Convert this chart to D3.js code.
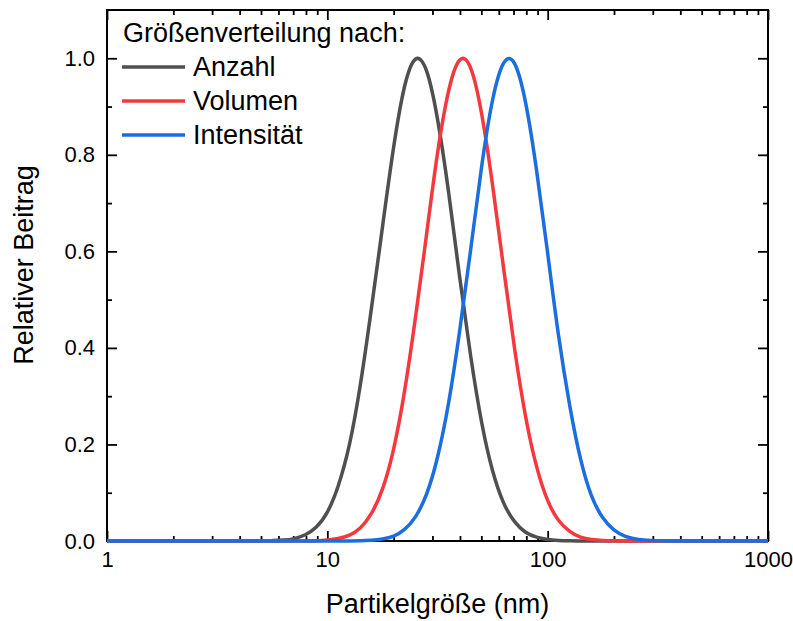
<!DOCTYPE html>
<html>
  <head>
    <meta charset="UTF-8" />
    <title>Größenverteilung</title>
    <script src="https://d3js.org/d3.v7.min.js"></script>
    <style>
      body { margin: 0; background: #fff; }
      svg text { font-family: "Liberation Sans", Arial, sans-serif; fill: #000; }
      .tick line { stroke: #000; stroke-width: 1.8; }
      .tick text { font-size: 22px; }
    </style>
  </head>
  <body>
    <div id="chart"></div>
    <script>
      // Partikelgröße in nm (log-Raster)
      var sizes = [1, 5.01, 5.62, 6.31, 7.08, 7.94, 8.91, 10, 11.2, 12.6, 14.1, 15.8, 17.8, 20, 22.4,
        25.1, 28.2, 31.6, 35.5, 39.8, 44.7, 50.1, 56.2, 63.1, 70.8, 79.4, 89.1, 100, 112, 126, 141,
        158, 178, 200, 224, 251, 282, 316, 355, 398, 1000];

      var anzahl = [0, 0.0002, 0.0007, 0.002, 0.005, 0.013, 0.029, 0.060, 0.114, 0.200, 0.322, 0.477,
        0.651, 0.816, 0.941, 0.998, 0.974, 0.875, 0.723, 0.549, 0.384, 0.247, 0.146, 0.079, 0.040,
        0.018, 0.008, 0.003, 0.001, 0.0004, 0.0001, 0, 0, 0, 0, 0, 0, 0, 0, 0, 0];

      var volumen = [0, 0, 0, 0, 0.0001, 0.0002, 0.0006, 0.002, 0.005, 0.012, 0.027, 0.056, 0.108,
        0.191, 0.310, 0.462, 0.635, 0.802, 0.932, 0.996, 0.980, 0.886, 0.738, 0.565, 0.398, 0.258,
        0.154, 0.084, 0.043, 0.020, 0.008, 0.003, 0.001, 0.0004, 0.0001, 0, 0, 0, 0, 0, 0];

      var intensitaet = [0, 0, 0, 0, 0, 0, 0, 0, 0, 0.0002, 0.0005, 0.0015, 0.004, 0.010, 0.024,
        0.050, 0.097, 0.173, 0.286, 0.433, 0.603, 0.774, 0.913, 0.990, 0.989, 0.908, 0.767, 0.596,
        0.426, 0.280, 0.170, 0.094, 0.048, 0.023, 0.010, 0.004, 0.0014, 0.0005, 0.0002, 0, 0];

      var seriesNames = ["Anzahl", "Volumen", "Intensität"];
      var seriesValues = [anzahl, volumen, intensitaet];
      var colors = ["#4f4f4f", "#f5383d", "#1a6ee0"];

      var xMajor = [1, 10, 100, 1000];
      var yMajor = [0, 0.2, 0.4, 0.6, 0.8, 1.0];
      var yMinor = [0.1, 0.3, 0.5, 0.7, 0.9];

      var margin = { top: 10, right: 25, bottom: 80, left: 107 },
        width = 768 - margin.left,
        height = 541 - margin.top;

      var svg = d3
        .select("#chart")
        .append("svg")
        .attr("width", 793)
        .attr("height", 621)
        .append("g")
        .attr("transform", "translate(" + margin.left + "," + margin.top + ")");

      var x = d3.scaleLog().domain([1, 1000]).range([0, width]);
      var y = d3.scaleLinear().domain([0, 1.1]).range([height, 0]);

      var xMinor = [];
      [1, 10, 100].forEach(function (dec) {
        for (var k = 2; k <= 9; k++) xMinor.push(dec * k);
      });

      // Achsen (Ticks nach innen)
      function noDomain(g) { g.select(".domain").remove(); }

      svg.append("g").attr("transform", "translate(0," + height + ")")
        .call(d3.axisBottom(x).tickValues(xMajor).tickFormat(d3.format("d")).tickSize(-10).tickPadding(10))
        .call(noDomain);
      svg.append("g").attr("transform", "translate(0," + height + ")")
        .call(d3.axisBottom(x).tickValues(xMinor).tickFormat("").tickSize(-5))
        .call(noDomain);
      svg.append("g")
        .call(d3.axisTop(x).tickValues(xMajor).tickFormat("").tickSize(-10))
        .call(noDomain);
      svg.append("g")
        .call(d3.axisTop(x).tickValues(xMinor).tickFormat("").tickSize(-5))
        .call(noDomain);

      svg.append("g")
        .call(d3.axisLeft(y).tickValues(yMajor).tickFormat(d3.format(".1f")).tickSize(-10).tickPadding(12))
        .call(noDomain);
      svg.append("g")
        .call(d3.axisLeft(y).tickValues(yMinor).tickFormat("").tickSize(-5))
        .call(noDomain);
      svg.append("g").attr("transform", "translate(" + width + ",0)")
        .call(d3.axisRight(y).tickValues(yMajor).tickFormat("").tickSize(-10))
        .call(noDomain);
      svg.append("g").attr("transform", "translate(" + width + ",0)")
        .call(d3.axisRight(y).tickValues(yMinor).tickFormat("").tickSize(-5))
        .call(noDomain);

      svg.append("rect")
        .attr("width", width)
        .attr("height", height)
        .attr("fill", "none")
        .attr("stroke", "#000")
        .attr("stroke-width", 2);

      svg.append("clipPath").attr("id", "clip")
        .append("rect").attr("x", -2).attr("y", -2)
        .attr("width", width + 4).attr("height", height + 4);

      var line = d3.line()
        .x(function (d) { return x(d[0]); })
        .y(function (d) { return y(d[1]); })
        .curve(d3.curveNatural);

      seriesValues.forEach(function (vals, i) {
        svg.append("path")
          .datum(sizes.map(function (s, j) { return [s, vals[j]]; }))
          .attr("clip-path", "url(#clip)")
          .attr("fill", "none")
          .attr("stroke", colors[i])
          .attr("stroke-width", 3.5)
          .attr("d", line);
      });

      // Legende
      var legend = svg.append("g").attr("transform", "translate(15,0)");
      legend.append("text")
        .attr("x", 1).attr("y", 32)
        .style("font-size", "27px")
        .text("Größenverteilung nach:");
      seriesNames.forEach(function (name, i) {
        var ly = 57 + i * 34;
        legend.append("line")
          .attr("x1", 0).attr("x2", 63)
          .attr("y1", ly).attr("y2", ly)
          .attr("stroke", colors[i])
          .attr("stroke-width", 3.5);
        legend.append("text")
          .attr("x", 71).attr("y", ly + 9)
          .style("font-size", "27px")
          .text(name);
      });

      // Achsentitel
      svg.append("text")
        .attr("x", width / 2).attr("y", height + 72)
        .attr("text-anchor", "middle")
        .style("font-size", "27px")
        .text("Partikelgröße (nm)");
      svg.append("text")
        .attr("transform", "rotate(-90)")
        .attr("x", -265 + margin.top).attr("y", -74)
        .attr("text-anchor", "middle")
        .style("font-size", "27px")
        .text("Relativer Beitrag");
    </script>
  </body>
</html>
